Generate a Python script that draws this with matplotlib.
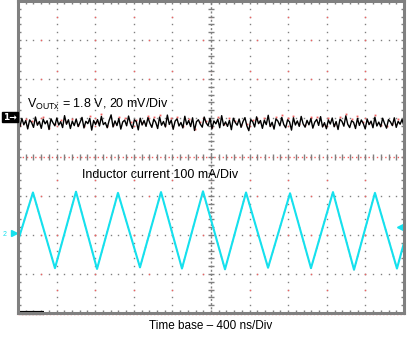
import numpy as np
import matplotlib
matplotlib.use("Agg")
import matplotlib.pyplot as plt

plt.rcParams['font.family'] = ['Liberation Sans', 'DejaVu Sans']
plt.rcParams['mathtext.default'] = 'regular'

# scope settings
time_per_div = 400.0    # ns
vout_per_div = 20.0     # mV
il_per_div = 100.0      # mA
vout_pos = 0.87         # trace position, div
il_pos = -1.95          # ch2 ground position, div

# inductor current, triangle vertices (ns, mA)
il_time = [0, 155, 383, 601, 819, 1036, 1264, 1482, 1699, 1917, 2145, 2363,
           2591, 2819, 3036, 3264, 3482, 3699, 3927, 4000]
il_ma = [-20, 104, -90, 106, -92, 103, -88, 105, -91, 107, -93, 104,
         -89, 102, -90, 105, -94, 103, -91, -25]

# output ripple, mV (ac coupled)
vout_mv = [0.6, -1.8, 2.4, -0.9, 1.3, -3.0, 1.6, 0.3, -2.2, 3.1, -1.1, 0.8, -2.7, 2.0, -0.4, 1.2, -3.3, 2.2, 0.2, -1.4,
           2.6, -1.0, 0.7, -2.3, 3.8, -0.6, 1.7, -2.8, 1.0, -1.3, 2.1, -1.8, 0.4, 2.9, -2.5, 0.9, -0.3, 2.4, -3.6, 1.3,
           -0.7, 1.8, -1.5, 3.4, -0.8, 0.3, -2.4, 1.4, 4.2, -2.0, 1.1, -1.3, 2.3, -3.1, 0.6, 1.5, -1.4, 3.6, -0.4, -2.7,
           1.7, 0.7, -3.5, 2.5, -1.0, 1.3, -1.7, 2.8, -0.1, -2.2, 2.0, 0.4, -2.8, 3.1, -1.1, 0.8, -2.0, 4.1, -0.7, 1.5,
           -3.2, 1.0, 2.2, -1.5, 0.3, -2.5, 3.5, -0.8, 1.3, -1.8, 2.7, -3.8, 0.7, 1.7, -0.6, -2.1, 3.1, 0.1, -1.4, 2.4,
           -2.9, 1.1, -0.4, 2.0, -2.4, 3.8, -1.3, 0.6, -1.7, 1.4, -3.4, 2.5, 0.3, -1.1, 2.1, -2.2, 0.8, 2.8, -1.5, -3.9,
           1.8, 0.7, -2.0, 3.2, -0.3, 1.3, -2.7, 1.5, -0.8, 4.0, -1.8, 0.4, -3.1, 2.2, 1.0, -1.4, 2.9, -0.7, -2.4, 1.7,
           0.6, -3.6, 2.7, -1.0, 1.1, -1.7, 3.4, -0.4, -2.1, 1.4, -0.9, 2.3, -2.6, 0.5, 1.9, -1.2, 3.3, -2.0, 0.2, -2.9,
           1.6, -0.5, 2.6, -1.9, 0.8, -3.3, 2.0, 0.9, -1.6, 3.7, -0.6, -2.3, 1.2, 0.4, -2.8, 2.4, -1.2, 1.6, -0.2, -3.0,
           2.1, -0.8, 1.0, -2.4, 3.0, -1.5, 0.5, -1.9, 2.5, -0.3, -2.6, 1.8, 0.6, -1.3, 2.7, -2.2, 0.9, -0.6, 1.9, -1.7]

GRAY = '#808080'
RED = '#f06060'
CYAN = '#14e1ee'

fig = plt.figure(figsize=(4.07, 3.4), dpi=100)
ax = fig.add_axes([18 / 407, 27 / 340, 386 / 407, 312 / 340])
ax.set_xlim(0, 10)
ax.set_ylim(-4, 4)
ax.set_xticks([])
ax.set_yticks([])
for s in ax.spines.values():
    s.set_color(GRAY)
    s.set_linewidth(2.2)

# graticule: dotted lines, 5 dots per division
fine_x = np.arange(0, 10.01, 0.2)
fine_y = np.arange(-4, 4.01, 0.2)
for gx in range(1, 10):
    if gx != 5:
        ax.plot(np.full_like(fine_y, gx), fine_y, ls='none', marker='s', ms=1.0, mew=0, color=GRAY)
for gy in range(-3, 4):
    if gy != 0:
        ax.plot(fine_x, np.full_like(fine_x, gy), ls='none', marker='s', ms=1.0, mew=0, color=GRAY)

# sparse red reference dots
red_x = np.arange(0.6, 10, 1.4)
red_y = np.arange(-3.4, 4, 1.4)
for gx in range(1, 10):
    ax.plot(np.full_like(red_y, gx), red_y, ls='none', marker='s', ms=1.0, mew=0, color=RED)
for gy in range(-3, 4):
    ax.plot(red_x, np.full_like(red_x, gy), ls='none', marker='s', ms=1.0, mew=0, color=RED)

# center cross with minor ticks
ax.plot([5, 5], [-4, 4], color=GRAY, lw=1.0, ls=(0, (1.5, 1.5)))
ax.plot(np.full_like(fine_y, 5), fine_y, ls='none', marker='_', ms=5, mew=1, color=GRAY)
ax.plot([0, 10], [0, 0], color=RED, lw=1.0, ls=(0, (1, 2)))
ax.plot(fine_x, np.zeros_like(fine_x), ls='none', marker='|', ms=5, mew=1, color=GRAY)

# edge ticks
ax.plot(fine_x, np.full_like(fine_x, 4), ls='none', marker='|', ms=4, mew=1, color=GRAY)
ax.plot(fine_x, np.full_like(fine_x, -4), ls='none', marker='|', ms=4, mew=1, color=GRAY)
ax.plot(np.zeros_like(fine_y), fine_y, ls='none', marker='_', ms=4, mew=1, color=GRAY)
ax.plot(np.full_like(fine_y, 10), fine_y, ls='none', marker='_', ms=4, mew=1, color=GRAY)

# red reference overlay on the frame
ax.plot([0, 10], [-4.03, -4.03], color=RED, lw=1.0, ls=(0, (1, 1.5)), clip_on=False)
ax.plot([0.01, 0.01], [-4, 4], color=RED, lw=0.8, ls=(0, (1, 1.5)), clip_on=False)
ax.plot([9.99, 9.99], [-4, 4], color=RED, lw=0.8, ls=(0, (1, 1.5)), clip_on=False)

# horizontal position marker
ax.plot([0.05, 0.67], [-4, -4], color='black', lw=3, solid_capstyle='butt', clip_on=False)

# traces
t_v = np.linspace(0, 4000, len(vout_mv))
v_div = np.array(vout_mv) / vout_per_div + vout_pos
ax.plot(t_v[1::3] / time_per_div, v_div[1::3] + 0.05, ls='none', marker='s', ms=1.3, mew=0, color=RED)
ax.plot(t_v / time_per_div, v_div, color='black', lw=1.0)

il_t = np.array(il_time) / time_per_div
il_div = np.array(il_ma) / il_per_div + il_pos
ax.plot(il_t, il_div, color=RED, lw=1.0, ls=(0, (1, 4)))
ax.plot(il_t, il_div, color=CYAN, lw=1.5)

# channel markers
ax.plot([9.9], [-1.8], marker='<', ms=5, color=CYAN, clip_on=False)
fig.text(3 / 407, 1 - 117 / 340, '1\u2192', color='white', fontsize=6.5, fontweight='bold',
         va='center', ha='left', family='DejaVu Sans',
         bbox=dict(boxstyle='square,pad=0.1', fc='black', ec='black'))
fig.text(3 / 407, 1 - 234 / 340, '2', color=CYAN, fontsize=5, va='center', ha='left')
ax.plot([-0.1], [il_pos], marker='>', ms=4, color=CYAN, clip_on=False)

# annotations
ax.text(0.23, 1.26, 'V$_{OUTx}$ = 1.8 V, 20 mV/Div', fontsize=9, ha='left', va='baseline')
ax.text(1.66, -0.54, 'Inductor current 100 mA/Div', fontsize=9, ha='left', va='baseline')
fig.text(211 / 407, 1 - 329 / 340, 'Time base \u2013 400 ns/Div', fontsize=8.5, ha='center', va='baseline')

fig.savefig('out.png', dpi=100)
